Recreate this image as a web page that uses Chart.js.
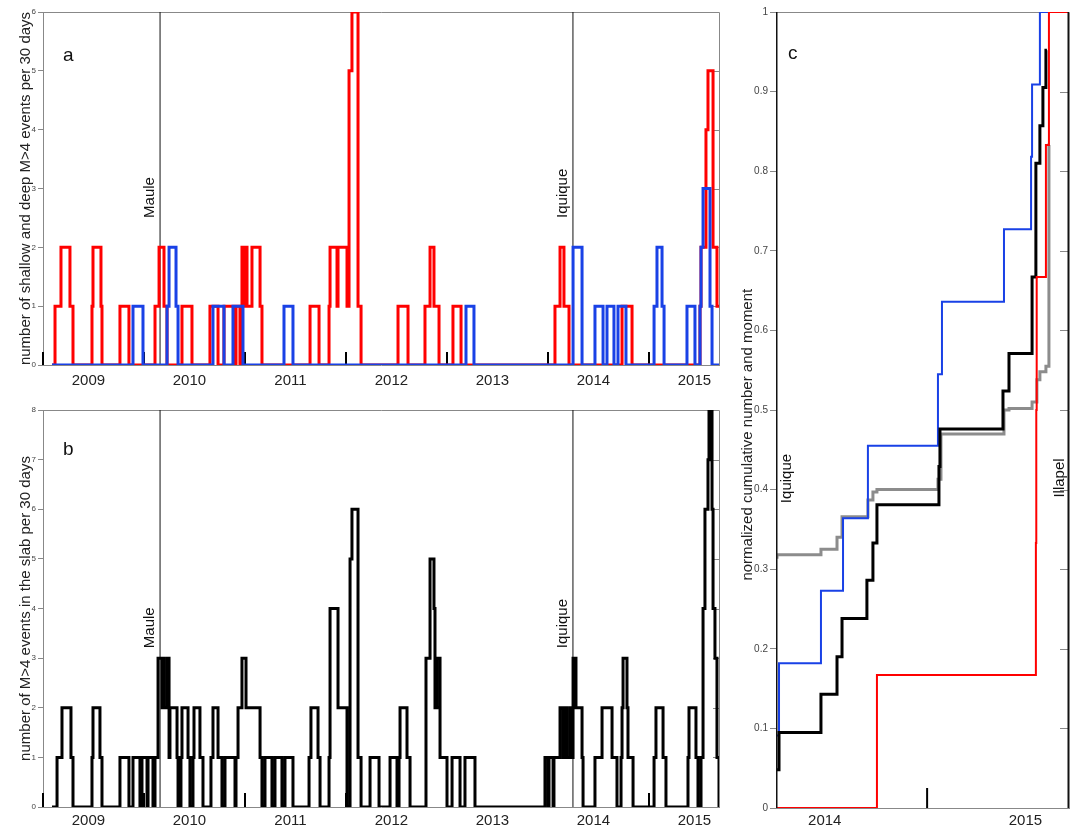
<!DOCTYPE html>
<html>
<head>
<meta charset="utf-8">
<script src="https://cdn.jsdelivr.net/npm/chart.js@4.4.1/dist/chart.umd.min.js"></script>
<style>
  body { margin: 0; background: #fff; }
  canvas { position: absolute; }
</style>
</head>
<body>
<canvas id="panelA" width="730" height="400" style="left:0px;top:0px"></canvas>
<canvas id="panelB" width="730" height="427" style="left:0px;top:400px"></canvas>
<canvas id="panelC" width="347" height="827" style="left:730px;top:0px"></canvas>
<script>
// ---- panel a: shallow (red) and deep (blue) M>4 events per 30 days ----
const redTimesA = [2009.089, 2009.119, 2009.178, 2009.267, 2009.297, 2009.485, 2009.495, 2009.574, 2009.584, 2009.762, 2009.851,
  2010.109, 2010.149, 2010.198, 2010.228, 2010.376, 2010.475, 2010.653, 2010.733, 2010.792, 2010.891, 2010.911, 2010.950,
  2010.970, 2010.990, 2011.000, 2011.020, 2011.069, 2011.149, 2011.168, 2011.644, 2011.733, 2011.832, 2011.842, 2011.911,
  2011.921, 2012.010, 2012.030, 2012.059, 2012.119, 2012.149, 2012.515, 2012.614, 2012.782, 2012.832, 2012.871, 2012.921,
  2013.059, 2013.139, 2014.069, 2014.119, 2014.158, 2014.208, 2014.733, 2014.832, 2015.505, 2015.515, 2015.564, 2015.584,
  2015.634, 2015.673, 2015.693];
const redCountsA = [0, 1, 2, 1, 0, 1, 2, 1, 0, 1, 0,
  1, 2, 1, 0, 1, 0, 1, 0, 1, 0, 1, 0,
  2, 1, 2, 1, 2, 1, 0, 1, 0, 1, 2, 1,
  2, 1, 5, 6, 1, 0, 1, 0, 1, 2, 1, 0,
  1, 0, 1, 2, 1, 0, 1, 0, 1, 2, 4, 5,
  2, 1, 1];

const blueTimesA = [2009.089, 2009.891, 2009.990, 2010.228, 2010.248, 2010.317, 2010.337, 2010.683, 2010.792, 2010.881,
  2010.980, 2011.386, 2011.475, 2013.188, 2013.267, 2014.248, 2014.337, 2014.465, 2014.545, 2014.584,
  2014.653, 2014.693, 2014.772, 2015.050, 2015.079, 2015.129, 2015.149, 2015.376, 2015.455, 2015.505,
  2015.515, 2015.535, 2015.604, 2015.624, 2015.693];
const blueCountsA = [0, 1, 0, 1, 2, 1, 0, 1, 0, 1,
  0, 1, 0, 1, 0, 2, 0, 1, 0, 1,
  0, 1, 0, 1, 2, 1, 0, 1, 0, 1,
  2, 3, 1, 0, 0];

// ---- panel b: M>4 events in the slab per 30 days ----
const slabTimesB = [2009.089, 2009.139, 2009.188, 2009.277, 2009.297, 2009.485, 2009.495, 2009.564, 2009.584, 2009.762,
  2009.851, 2009.891, 2009.960, 2009.980, 2010.030, 2010.040, 2010.089, 2010.109, 2010.139, 2010.178,
  2010.188, 2010.198, 2010.228, 2010.248, 2010.257, 2010.327, 2010.337, 2010.366, 2010.376, 2010.436,
  2010.455, 2010.485, 2010.495, 2010.554, 2010.584, 2010.663, 2010.683, 2010.733, 2010.772, 2010.802,
  2010.901, 2010.911, 2010.931, 2010.970, 2011.010, 2011.149, 2011.168, 2011.198, 2011.267, 2011.297,
  2011.366, 2011.396, 2011.475, 2011.634, 2011.653, 2011.723, 2011.743, 2011.832, 2011.842, 2011.921,
  2012.010, 2012.040, 2012.059, 2012.119, 2012.149, 2012.238, 2012.327, 2012.436, 2012.505, 2012.525,
  2012.535, 2012.604, 2012.634, 2012.792, 2012.832, 2012.871, 2012.881, 2012.901, 2012.931, 2013.000,
  2013.050, 2013.129, 2013.178, 2013.277, 2013.970, 2014.000, 2014.010, 2014.050, 2014.059, 2014.119,
  2014.149, 2014.168, 2014.188, 2014.218, 2014.238, 2014.248, 2014.277, 2014.337, 2014.347, 2014.465,
  2014.535, 2014.634, 2014.683, 2014.723, 2014.733, 2014.743, 2014.782, 2014.792, 2014.842, 2015.050,
  2015.069, 2015.139, 2015.168, 2015.386, 2015.396, 2015.465, 2015.485, 2015.515, 2015.535, 2015.554,
  2015.584, 2015.594, 2015.604, 2015.614, 2015.624, 2015.634, 2015.653, 2015.673, 2015.693];
const slabCountsB = [0, 1, 2, 1, 0, 1, 2, 1, 0, 1,
  0, 1, 0, 1, 0, 1, 0, 1, 3, 2,
  3, 2, 3, 1, 2, 1, 0, 1, 2, 1,
  0, 1, 2, 1, 0, 1, 2, 1, 0, 1,
  0, 1, 2, 3, 2, 1, 0, 1, 0, 1,
  0, 1, 0, 1, 2, 1, 0, 1, 4, 2,
  0, 5, 6, 1, 0, 1, 0, 1, 0, 1,
  2, 1, 0, 3, 5, 4, 2, 3, 1, 0,
  1, 0, 1, 0, 1, 0, 1, 0, 1, 2,
  1, 2, 1, 2, 1, 3, 2, 1, 0, 1,
  2, 1, 0, 1, 2, 3, 2, 1, 0, 1,
  2, 1, 0, 1, 2, 1, 0, 1, 4, 6,
  7, 8, 7, 8, 6, 4, 3, 1, 0];

// ---- panel c: normalized cumulative number and moment since Iquique ----
const blueTimesC = [2014.247, 2014.262, 2014.471, 2014.581, 2014.705, 2015.054, 2015.074, 2015.383, 2015.518, 2015.523, 2015.562, 2015.707];
const blueCumC = [0.091, 0.182, 0.273, 0.364, 0.455, 0.545, 0.636, 0.727, 0.818, 0.909, 1.0, 1.0];
const blackTimesC = [2014.247, 2014.262, 2014.471, 2014.551, 2014.576, 2014.700, 2014.730, 2014.750, 2015.059, 2015.064,
  2015.378, 2015.408, 2015.523, 2015.542, 2015.562, 2015.577, 2015.592, 2015.597];
const blackCumC = [0.048, 0.095, 0.143, 0.190, 0.238, 0.286, 0.333, 0.381, 0.429, 0.476,
  0.524, 0.571, 0.667, 0.810, 0.857, 0.905, 0.952, 0.952];
const greyTimesC = [2014.247, 2014.252, 2014.471, 2014.551, 2014.576, 2014.705, 2014.730, 2014.750, 2015.054, 2015.069,
  2015.383, 2015.408, 2015.523, 2015.547, 2015.562, 2015.592, 2015.607, 2015.610];
const greyCumC = [0.315, 0.318, 0.325, 0.340, 0.366, 0.387, 0.397, 0.400, 0.413, 0.470,
  0.500, 0.502, 0.510, 0.538, 0.548, 0.555, 0.833, 0.833];
const redTimesC = [2014.247, 2014.750, 2015.542, 2015.544, 2015.546, 2015.592, 2015.607, 2015.707];
const redCumC = [0, 0.167, 0.333, 0.5, 0.667, 0.833, 1.0, 1.0];

// ---- events and axis labels ----
const eventNamesAB = ['Maule', 'Iquique'];
const eventTimesAB = [2010.159, 2014.247];
const eventNamesC = ['Iquique', 'Illapel'];
const eventTimesC = [2014.247, 2015.707];
const yearLabelsAB = ['2009', '2010', '2011', '2012', '2013', '2014', '2015'];
const yearLabelPosAB = [2009.45, 2010.45, 2011.45, 2012.45, 2013.45, 2014.45, 2015.45];
const yearStartsAB = [2009, 2010, 2011, 2012, 2013, 2014, 2015];
const yearLabelsC = ['2014', '2015'];
const yearLabelPosC = [2014.49, 2015.49];
const yearStartsC = [2015];

const FONT = '"Liberation Sans", Arial, sans-serif';
Chart.defaults.font.family = FONT;
const RED = '#ff0000';
const BLUE = 'rgb(25,65,230)';
const GREY = 'rgb(140,140,140)';

function pts(times, vals) {
  return times.map((t, i) => ({ x: t, y: vals[i] }));
}

function stepSet(times, vals, color, width, order) {
  return {
    data: pts(times, vals), borderColor: color, borderWidth: width, stepped: true,
    pointRadius: 0, fill: false, order: order, borderCapStyle: 'butt', borderJoinStyle: 'miter'
  };
}

function eventSets(times, yMax, width) {
  return times.map(t => ({
    data: [{ x: t, y: 0 }, { x: t, y: yMax }], borderColor: '#111', borderWidth: width,
    pointRadius: 0, fill: false, order: width > 1 ? 0 : 9
  }));
}

// frame, inward right ticks, short year marks, texts
function decorPlugin(cfg) {
  return {
    id: 'decor' + cfg.letter,
    beforeDatasetsDraw(chart) {
      const { ctx, chartArea: a, scales: { x, y } } = chart;
      ctx.save();
      ctx.strokeStyle = '#888';
      ctx.lineWidth = 1;
      ctx.beginPath();
      ctx.moveTo(a.left, Math.round(a.top) + 0.5);
      ctx.lineTo(Math.round(a.right) + 0.5, Math.round(a.top) + 0.5);
      ctx.lineTo(Math.round(a.right) + 0.5, a.bottom);
      ctx.stroke();
      y.ticks.forEach(t => {
        const py = Math.round(y.getPixelForValue(t.value)) + 0.5;
        ctx.beginPath();
        ctx.moveTo(a.right - cfg.rightTick, py);
        ctx.lineTo(a.right, py);
        ctx.stroke();
      });
      ctx.strokeStyle = '#000';
      ctx.lineWidth = 2;
      cfg.yearStarts.forEach(t => {
        const px = x.getPixelForValue(t);
        ctx.beginPath();
        ctx.moveTo(px, a.bottom);
        ctx.lineTo(px, a.bottom - cfg.markLen);
        ctx.stroke();
      });
      ctx.restore();
    },
    afterDatasetsDraw(chart) {
      const { ctx, chartArea: a, scales: { x, y } } = chart;
      ctx.save();
      ctx.fillStyle = '#111';
      ctx.font = '19px ' + FONT;
      ctx.textAlign = 'center';
      ctx.textBaseline = 'middle';
      ctx.fillText(cfg.letter, x.getPixelForValue(cfg.letterAt[0]), y.getPixelForValue(cfg.letterAt[1]));

      ctx.font = '15px ' + FONT;
      ctx.textAlign = 'left';
      ctx.textBaseline = 'alphabetic';
      cfg.events.forEach(e => {
        ctx.save();
        ctx.translate(x.getPixelForValue(e.t) + e.gap, y.getPixelForValue(e.y));
        ctx.rotate(-Math.PI / 2);
        ctx.fillText(e.name, 0, 0);
        ctx.restore();
      });

      ctx.translate(a.left - cfg.titleGap, y.getPixelForValue(cfg.titleMid));
      ctx.rotate(-Math.PI / 2);
      ctx.textAlign = 'center';
      ctx.textBaseline = 'middle';
      ctx.fillStyle = '#222';
      ctx.fillText(cfg.title, 0, 0);
      ctx.restore();
    }
  };
}

function makeChart(id, o) {
  return new Chart(document.getElementById(id), {
    type: 'line',
    data: { datasets: o.datasets },
    options: {
      responsive: false,
      animation: false,
      devicePixelRatio: 1,
      layout: { padding: { top: o.padTop, right: o.padRight, left: 0, bottom: 0 } },
      plugins: { legend: { display: false }, tooltip: { enabled: false } },
      scales: {
        x: {
          type: 'linear', min: o.xMin, max: o.xMax,
          afterBuildTicks: s => { s.ticks = o.labelPos.map(v => ({ value: v })); },
          afterFit: s => { s.height = o.xHeight; },
          ticks: {
            autoSkip: false, maxRotation: 0, padding: o.xPad,
            font: { size: 15 }, color: '#222',
            callback: (v, i) => o.labels[i]
          },
          grid: { display: false },
          border: { display: true, color: '#888' }
        },
        y: {
          min: 0, max: o.yMax,
          afterFit: s => { s.width = o.yWidth; },
          ticks: {
            stepSize: o.yStep, font: { size: o.yFont }, color: '#444', padding: 2,
            callback: v => String(Number(v.toFixed(1)))
          },
          grid: { drawOnChartArea: false, drawTicks: true, tickLength: o.yTick, color: '#888' },
          border: { display: true, color: '#888' }
        }
      }
    },
    plugins: [decorPlugin(o.decor)]
  });
}

makeChart('panelA', {
  datasets: [
    stepSet(blueTimesA, blueCountsA, BLUE, 3, 1),
    stepSet(redTimesA, redCountsA, RED, 3, 2),
    ...eventSets(eventTimesAB, 6, 1)
  ],
  xMin: 2009, xMax: 2015.693, yMax: 6, yStep: 1, yFont: 8, yTick: 5, yWidth: 43,
  padTop: 12, padRight: 11, xHeight: 35, xPad: -1,
  labels: yearLabelsAB, labelPos: yearLabelPosAB,
  decor: {
    letter: 'a', letterAt: [2009.25, 5.25], title: 'number of shallow and deep M>4 events per 30 days',
    titleGap: 17, titleMid: 3, rightTick: 6, markLen: 13, yearStarts: yearStartsAB,
    events: eventNamesAB.map((n, i) => ({ name: n, t: eventTimesAB[i], y: 2.5, gap: -6 }))
  }
});

makeChart('panelB', {
  datasets: [
    stepSet(slabTimesB, slabCountsB, '#000', 3, 1),
    ...eventSets(eventTimesAB, 8, 1)
  ],
  xMin: 2009, xMax: 2015.693, yMax: 8, yStep: 1, yFont: 8, yTick: 5, yWidth: 43,
  padTop: 10, padRight: 11, xHeight: 20, xPad: -3,
  labels: yearLabelsAB, labelPos: yearLabelPosAB,
  decor: {
    letter: 'b', letterAt: [2009.25, 7.2], title: 'number of M>4 events in the slab per 30 days',
    titleGap: 17, titleMid: 4, rightTick: 6, markLen: 14, yearStarts: yearStartsAB,
    events: eventNamesAB.map((n, i) => ({ name: n, t: eventTimesAB[i], y: 3.2, gap: -6 }))
  }
});

makeChart('panelC', {
  datasets: [
    stepSet(redTimesC, redCumC, RED, 2, 1),
    stepSet(blackTimesC, blackCumC, '#000', 3, 2),
    stepSet(blueTimesC, blueCumC, BLUE, 2, 3),
    stepSet(greyTimesC, greyCumC, GREY, 3, 4),
    ...eventSets(eventTimesC, 1, 3)
  ],
  xMin: 2014.247, xMax: 2015.707, yMax: 1, yStep: 0.1, yFont: 10, yTick: 6, yWidth: 46,
  padTop: 12, padRight: 8, xHeight: 19, xPad: -4,
  labels: yearLabelsC, labelPos: yearLabelPosC,
  decor: {
    letter: 'c', letterAt: [2014.33, 0.948], title: 'normalized cumulative number and moment',
    titleGap: 28, titleMid: 0.469, rightTick: 9, markLen: 20, yearStarts: yearStartsC,
    events: [
      { name: eventNamesC[0], t: eventTimesC[0], y: 0.383, gap: 15 },
      { name: eventNamesC[1], t: eventTimesC[1], y: 0.39, gap: -5 }
    ]
  }
});
</script>
</body>
</html>
